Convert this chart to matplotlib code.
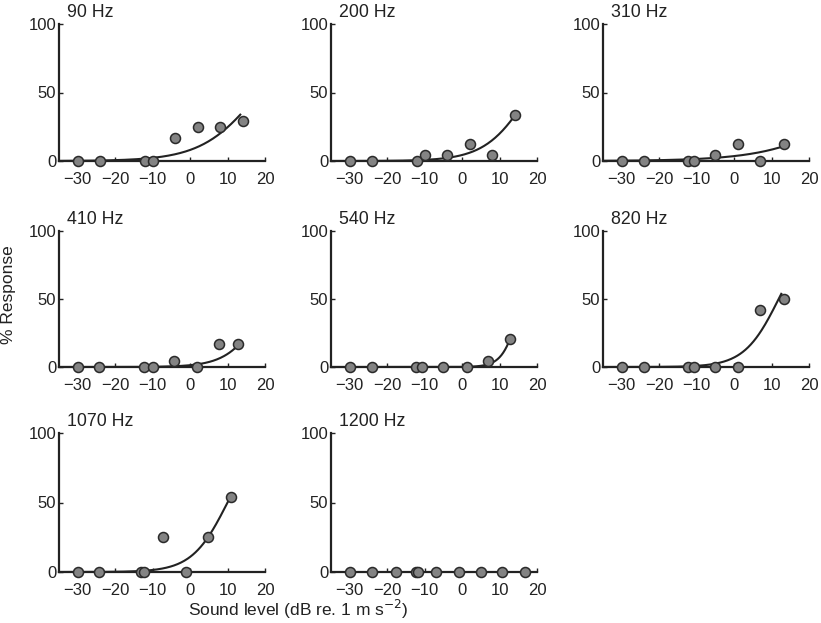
import numpy as np
import matplotlib
matplotlib.use("Agg")
import matplotlib.pyplot as plt

plt.rcParams['font.family'] = ['Liberation Sans', 'DejaVu Sans']
plt.rcParams['font.size'] = 12

# panel titles
freqs = ['90 Hz', '200 Hz', '310 Hz', '410 Hz', '540 Hz', '820 Hz', '1070 Hz', '1200 Hz']

# sound level (dB) and % response per panel
x90 = [-30, -24, -12, -10, -4, 2, 8, 14]
y90 = [0, 0, 0, 0, 16.7, 25, 25, 29.2]
x200 = [-30, -24, -12, -10, -4, 2, 8, 14]
y200 = [0, 0, 0, 4.2, 4.2, 12.5, 4.2, 33.3]
x310 = [-30, -24, -12.3, -10.8, -5, 1, 7, 13.2]
y310 = [0, 0, 0, 0, 4.2, 12.5, 0, 12.5]
x410 = [-30, -24.3, -12.4, -10, -4.2, 1.9, 7.7, 12.8]
y410 = [0, 0, 0, 0, 4.2, 0, 16.7, 16.7]
x540 = [-30, -24, -12.2, -10.7, -5, 1.2, 7, 12.9]
y540 = [0, 0, 0, 0, 0, 0, 4.2, 20.8]
x820 = [-30, -24, -12.3, -10.8, -5, 1, 7, 13.2]
y820 = [0, 0, 0, 0, 0, 0, 41.7, 50]
x1070 = [-30, -24.3, -13, -12.2, -7.1, -1.1, 4.8, 10.8]
y1070 = [0, 0, 0, 0, 25, 0, 25, 54.2]
x1200 = [-30, -24, -17.7, -12.2, -11.7, -7, -0.7, 5, 10.6, 16.7]
y1200 = [0, 0, 0, 0, 0, 0, 0, 0, 0, 0]

xs = [x90, x200, x310, x410, x540, x820, x1070, x1200]
ys = [y90, y200, y310, y410, y540, y820, y1070, y1200]

# logistic fit parameters (midpoint, scale, end of curve)
fit_x0 = [18.5, 18.2, 36.9, 20.9, 15.9, 11.9, 10.0, None]
fit_s = [7.6, 5.9, 11.2, 4.86, 2.3, 4.6, 4.75, None]
fit_end = [13.4, 14.3, 13.5, 13.2, 12.9, 12.6, 10.6, None]

xticks = [-30, -20, -10, 0, 10, 20]
yticks = [0, 50, 100]

W, H = 821, 623
fig = plt.figure(figsize=(W / 100, H / 100), dpi=100)

col_left = [59, 331, 603]
col_w = 206
row_top = [24, 231, 433]
row_bot = [161, 367, 572]

for i in range(8):
    r, c = divmod(i, 3)
    ax = fig.add_axes([col_left[c] / W, 1 - row_bot[r] / H, col_w / W,
                       (row_bot[r] - row_top[r]) / H])
    if fit_x0[i] is not None:
        xc = np.linspace(-35, fit_end[i], 200)
        yc = 100 / (1 + np.exp(-(xc - fit_x0[i]) / fit_s[i]))
        ax.plot(xc, yc, color='#222222', lw=1.5, clip_on=False, zorder=2)
    ax.plot(xs[i], ys[i], 'o', ms=7.2, mfc='#838383', mec='#2a2a2a', mew=1.1,
            clip_on=False, zorder=3)
    ax.set_xlim(-35, 20)
    ax.set_ylim(0, 100)
    ax.set_xticks(xticks)
    ax.set_xticklabels(['\u221230', '\u221220', '\u221210', '0', '10', '20'])
    ax.set_yticks(yticks)
    for s in ['top', 'right']:
        ax.spines[s].set_visible(False)
    for s in ['left', 'bottom']:
        ax.spines[s].set_linewidth(1.6)
        ax.spines[s].set_color('#222222')
    ax.tick_params(direction='in', length=3, width=1, labelsize=12,
                   colors='#222222')
    ax.tick_params(axis='x', pad=8)
    ax.tick_params(axis='y', pad=2)
    ax.text(0.04, 1.025, freqs[i], transform=ax.transAxes, fontsize=12.8,
            ha='left', va='bottom', color='#222222')

fig.text(9 / W, 1 - 295 / H, '% Response', rotation=90, ha='center',
         va='center', fontsize=12.5, color='#222222')
fig.text(298 / W, 1 - 609 / H, 'Sound level (dB re. 1 m s$^{\u22122}$)',
         ha='center', va='center', fontsize=12.5, color='#222222')

fig.savefig('out.png', dpi=100)
